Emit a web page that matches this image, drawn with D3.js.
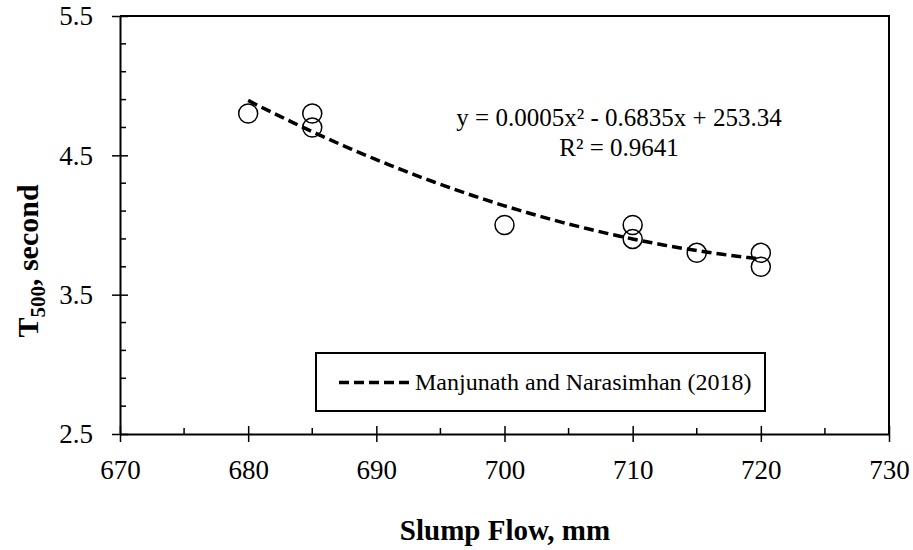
<!DOCTYPE html>
<html>
<head>
<meta charset="utf-8">
<script src="https://cdn.jsdelivr.net/npm/d3@7"></script>
<style>
  body { margin: 0; background: #fff; }
  svg text { font-family: "Liberation Serif", Tinos, "Times New Roman", Times, "DejaVu Serif", serif; fill: #000; }
</style>
</head>
<body>
<div class="container"></div>
<script>
const WIDTH = 913;
const HEIGHT = 550;
const LEFT = 120, RIGHT = 889, TOP = 16, BOTTOM = 434;
const SERIF = '"Liberation Serif", Tinos, "Times New Roman", Times, "DejaVu Serif", serif';

// measured points, slump flow (mm) vs T500 (s)
var slumpFlow = [680, 685, 685, 700, 710, 710, 715, 720, 720];
var t500 = [4.8, 4.8, 4.7, 4.0, 4.0, 3.9, 3.8, 3.8, 3.7];
var xTicks = [670, 680, 690, 700, 710, 720, 730];
var yTicks = [2.5, 3.5, 4.5, 5.5];
var equationText = ["y = 0.0005x\u00B2 - 0.6835x + 253.34", "R\u00B2 = 0.9641"];
var legendLabel = "Manjunath and Narasimhan (2018)";

// least squares quadratic through the points (Excel's polynomial trendline)
var fitQuadratic = function (xs, ys) {
    var x0 = 700;
    var s = [0, 0, 0, 0, 0], t = [0, 0, 0];
    xs.forEach(function (x, i) {
        var u = x - x0;
        for (var k = 0; k < 5; k++) s[k] += Math.pow(u, k);
        for (var k = 0; k < 3; k++) t[k] += ys[i] * Math.pow(u, k);
    });
    // solve 3x3 normal equations
    var m = [[s[0], s[1], s[2], t[0]], [s[1], s[2], s[3], t[1]], [s[2], s[3], s[4], t[2]]];
    for (var i = 0; i < 3; i++) {
        for (var j = i + 1; j < 3; j++) {
            var f = m[j][i] / m[i][i];
            for (var k = i; k < 4; k++) m[j][k] -= f * m[i][k];
        }
    }
    var c = [0, 0, 0];
    for (var i = 2; i >= 0; i--) {
        var v = m[i][3];
        for (var k = i + 1; k < 3; k++) v -= m[i][k] * c[k];
        c[i] = v / m[i][i];
    }
    return function (x) { var u = x - x0; return c[0] + c[1] * u + c[2] * u * u; };
};

var svg = d3.select('.container').append('svg')
    .attr('width', WIDTH)
    .attr('height', HEIGHT)
    .style('font-family', SERIF);

var xScale = d3.scaleLinear().domain([670, 730]).range([LEFT, RIGHT]);
var yScale = d3.scaleLinear().domain([2.5, 5.5]).range([BOTTOM, TOP]);

// minor ticks (inside)
var xMinor = d3.range(670, 731, 5).filter(function (d) { return d % 10 !== 0; });
var yMinor = d3.range(25, 56, 2).map(function (d) { return d / 10; })
    .filter(function (d) { return yTicks.indexOf(d) < 0; });

svg.append('g').selectAll('line').data(xMinor).enter().append('line')
    .attr('x1', xScale).attr('x2', xScale)
    .attr('y1', BOTTOM).attr('y2', BOTTOM - 6)
    .attr('stroke', '#000').attr('stroke-width', 1.5);

svg.append('g').selectAll('line').data(yMinor).enter().append('line')
    .attr('x1', LEFT).attr('x2', LEFT + 6)
    .attr('y1', yScale).attr('y2', yScale)
    .attr('stroke', '#000').attr('stroke-width', 1.5);

// axes, major ticks cross
var xAxis = d3.axisBottom(xScale).tickValues(xTicks).tickSizeInner(8).tickSizeOuter(0)
    .tickFormat(d3.format('d'));
var gx = svg.append('g')
    .attr('transform', 'translate(0,' + BOTTOM + ')')
    .call(xAxis);
gx.attr('font-family', null);
gx.selectAll('.tick line').attr('y1', -8).attr('stroke-width', 1.5);
gx.select('.domain').attr('stroke-width', 2);
gx.selectAll('text').attr('font-size', 27).attr('y', 45).attr('dy', null).style('font-family', SERIF);

var yAxis = d3.axisLeft(yScale).tickValues(yTicks).tickSizeInner(8).tickSizeOuter(0)
    .tickFormat(d3.format('.1f'));
var gy = svg.append('g')
    .attr('transform', 'translate(' + LEFT + ',0)')
    .call(yAxis);
gy.attr('font-family', null);
gy.selectAll('.tick line').attr('x1', 8).attr('stroke-width', 1.5);
gy.select('.domain').attr('stroke-width', 2);
gy.selectAll('text').attr('font-size', 27).attr('x', -27).attr('dy', '0.33em').style('font-family', SERIF);

// top and right frame
svg.append('path')
    .attr('d', 'M' + LEFT + ',' + TOP + 'H' + RIGHT + 'V' + BOTTOM)
    .attr('fill', 'none').attr('stroke', '#000').attr('stroke-width', 2);

// trendline
var fit = fitQuadratic(slumpFlow, t500);
var line = d3.line()
    .x(function (d) { return xScale(d); })
    .y(function (d) { return yScale(fit(d)); });
svg.append('path')
    .attr('d', line(d3.range(680, 720.01, 0.5)))
    .attr('fill', 'none')
    .attr('stroke', '#000')
    .attr('stroke-width', 3.5)
    .attr('stroke-dasharray', '10,5');

// points
svg.append('g').selectAll('circle').data(slumpFlow).enter().append('circle')
    .attr('cx', function (d) { return xScale(d); })
    .attr('cy', function (d, i) { return yScale(t500[i]); })
    .attr('r', 9.5)
    .attr('fill', 'none')
    .attr('stroke', '#000')
    .attr('stroke-width', 1.5);

// equation
svg.append('g').selectAll('text').data(equationText).enter().append('text')
    .attr('x', 619)
    .attr('y', function (d, i) { return 126 + i * 30; })
    .attr('text-anchor', 'middle')
    .attr('font-size', 25)
    .style('font-family', SERIF)
    .text(function (d) { return d; });

// legend
var lg = svg.append('g');
lg.append('rect')
    .attr('x', 316).attr('y', 353).attr('width', 449).attr('height', 58)
    .attr('fill', '#fff').attr('stroke', '#000').attr('stroke-width', 2);
lg.append('line')
    .attr('x1', 339).attr('x2', 409).attr('y1', 382.5).attr('y2', 382.5)
    .attr('stroke', '#000').attr('stroke-width', 3.5).attr('stroke-dasharray', '10,5');
lg.append('text')
    .attr('x', 415).attr('y', 390)
    .attr('font-size', 24)
    .style('font-family', SERIF)
    .text(legendLabel);

// axis titles
svg.append('text')
    .attr('x', 505).attr('y', 540)
    .attr('text-anchor', 'middle')
    .attr('font-size', 29).attr('font-weight', 'bold')
    .style('font-family', SERIF)
    .text('Slump Flow, mm');

var yt = svg.append('text')
    .attr('transform', 'translate(38,261) rotate(-90)')
    .attr('text-anchor', 'middle')
    .attr('font-size', 30).attr('font-weight', 'bold')
    .style('font-family', SERIF);
yt.append('tspan').text('T');
yt.append('tspan').attr('font-size', 21).attr('dy', 7).text('500');
yt.append('tspan').attr('dy', -7).text(', second');
</script>
</body>
</html>
